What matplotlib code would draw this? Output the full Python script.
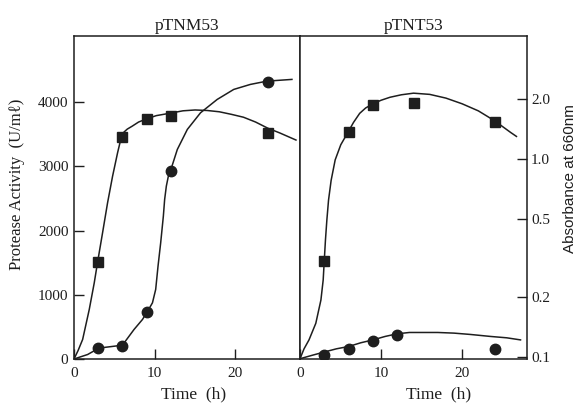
import matplotlib
matplotlib.use('Agg')
import matplotlib.pyplot as plt
from matplotlib.ticker import FixedLocator, FixedFormatter, NullLocator

plt.rcParams['font.family'] = ['Liberation Serif', 'DejaVu Serif']

ink = '#1e1e1e'

# pTNM53 - protease activity (U/ml)
tnm_t = [3, 6, 9, 12, 24]
tnm_sq = [1510, 3460, 3735, 3785, 3520]
tnm_ci = [170, 205, 730, 2930, 4315]

# hand drawn curves
tnm_sq_curve_t = [0, 0.5, 1.07, 1.89, 2.51, 2.93, 3.54, 4.16, 4.78, 5.4, 5.89, 6.2, 6.6, 7.2, 8, 9,
                  10.2, 12, 13.5, 15, 16.5, 18, 19.5, 21, 22.5, 24, 25.5, 27.5]
tnm_sq_curve_v = [0, 130, 304, 771, 1187, 1514, 1966, 2433, 2847, 3212, 3470, 3535, 3580, 3625, 3690, 3740,
                  3790, 3830, 3865, 3878, 3870, 3850, 3810, 3765, 3690, 3595, 3520, 3410]
tnm_ci_curve_t = [0, 1.69, 3.1, 6.0, 7.44, 8.48, 9.1, 9.72, 10.12, 10.41, 10.74, 11.07, 11.23, 11.44, 11.69,
                  11.98, 12.8, 14.04, 15.68, 17.74, 19.79, 21.85, 23.9, 27.0]
tnm_ci_curve_v = [0, 70, 170, 215, 460, 615, 740, 875, 1083, 1445, 1810, 2224, 2484, 2692, 2847,
                  2941, 3263, 3575, 3835, 4042, 4198, 4276, 4327, 4354]

# pTNT53 - absorbance at 660nm (log)
tnt_sq_t = [3, 6, 9, 14, 24]
tnt_sq = [0.305, 1.37, 1.87, 1.91, 1.54]
tnt_ci_t = [3, 6, 9, 12, 24]
tnt_ci = [0.102, 0.110, 0.121, 0.129, 0.110]

tnt_sq_curve_t = [0, 0.5, 1.11, 1.95, 2.58, 2.86, 2.99, 3.14, 3.31, 3.52, 3.84, 4.34, 5.03, 5.94, 6.6, 7.36, 8.1, 9,
                  10, 11.1, 12.5, 14, 16, 18, 20, 22, 24, 26, 26.7]
tnt_sq_curve_v = [0.098, 0.11, 0.122, 0.148, 0.194, 0.245, 0.305, 0.39, 0.49, 0.62, 0.78, 0.99, 1.18, 1.37, 1.53, 1.70, 1.81, 1.90,
                  1.98, 2.05, 2.11, 2.15, 2.12, 2.03, 1.9, 1.75, 1.56, 1.36, 1.30]
tnt_ci_curve_t = [0, 1.5, 3, 4.5, 6, 7.5, 9, 10.5, 12, 13.5, 15, 17, 19, 21, 23.5, 25.5, 27.2]
tnt_ci_curve_v = [0.098, 0.102, 0.106, 0.110, 0.113, 0.118, 0.122, 0.127, 0.131, 0.133, 0.133, 0.133, 0.132, 0.130, 0.127, 0.125, 0.122]

abs_ticks = [0.1, 0.2, 0.5, 1.0, 2.0]
abs_labels = ['0.1', '0.2', '0.5', '1.0', '2.0']

fig = plt.figure(figsize=(5.78, 4.03), dpi=100)
ax1 = fig.add_axes([74/578, 44/403, 226/578, 323/403])
ax2 = fig.add_axes([300/578, 44/403, 227/578, 323/403])

# left panel
ax1.plot(tnm_sq_curve_t, tnm_sq_curve_v, color=ink, lw=1.1)
ax1.plot(tnm_ci_curve_t, tnm_ci_curve_v, color=ink, lw=1.1)
ax1.plot(tnm_t, tnm_sq, 's', color=ink, ms=7)
ax1.plot(tnm_t, tnm_ci, 'o', color=ink, ms=7.5)
ax1.set_xlim(0, 28)
ax1.set_ylim(0, 5030)
ax1.set_xticks([0, 10, 20])
ax1.set_yticks([0, 1000, 2000, 3000, 4000])
ax1.tick_params(direction='in', length=7, width=1, colors=ink, labelsize=11, pad=4)
ax1.tick_params(axis='x', pad=6)
ax1.set_title('pTNM53', fontsize=12.5, color=ink, pad=4)
ax1.set_xlabel('Time  (h)', fontsize=12.5, color=ink)
ax1.xaxis.set_label_coords(0.531, -0.085)
ax1.set_ylabel('Protease Activity  (U/mℓ)', fontsize=12, color=ink)
ax1.yaxis.set_label_coords(-0.215, 0.54)

# right panel
ax2.plot(tnt_sq_curve_t, tnt_sq_curve_v, color=ink, lw=1.1)
ax2.plot(tnt_ci_curve_t, tnt_ci_curve_v, color=ink, lw=1.1)
ax2.plot(tnt_sq_t, tnt_sq, 's', color=ink, ms=7)
ax2.plot(tnt_ci_t, tnt_ci, 'o', color=ink, ms=7.5)
ax2.set_yscale('log')
ax2.set_xlim(0, 28)
ax2.set_ylim(0.0977, 4.18)
ax2.set_xticks([0, 10, 20])
ax2.yaxis.set_major_locator(FixedLocator(abs_ticks))
ax2.yaxis.set_major_formatter(FixedFormatter(abs_labels))
ax2.yaxis.set_minor_locator(NullLocator())
ax2.yaxis.tick_right()
ax2.yaxis.set_label_position('right')
ax2.tick_params(direction='in', length=7, width=1, colors=ink, labelsize=11, pad=3)
ax2.tick_params(axis='x', pad=6)
ax2.set_title('pTNT53', fontsize=12.5, color=ink, pad=4)
ax2.set_xlabel('Time  (h)', fontsize=12.5, color=ink)
ax2.xaxis.set_label_coords(0.612, -0.085)
ax2.set_ylabel('Absorbance at 660nm', fontsize=11, color=ink, family='Liberation Sans')
ax2.yaxis.set_label_coords(1.16, 0.56)

for ax in (ax1, ax2):
    for s in ax.spines.values():
        s.set_color(ink)
        s.set_linewidth(1.1)

fig.savefig('out.png', dpi=100)
